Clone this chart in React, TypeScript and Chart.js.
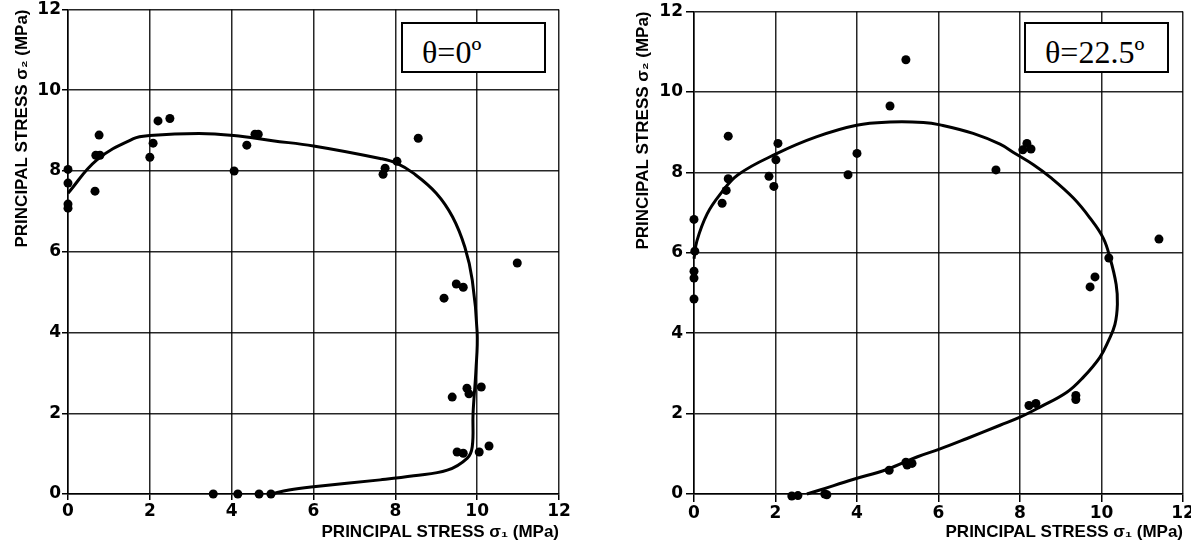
import React, { useEffect, useRef } from "react";
import { Chart, registerables } from "chart.js";

Chart.register(...registerables);

// ---------- Data ----------
const xTitle = "PRINCIPAL STRESS σ₁ (MPa)";
const yTitle = "PRINCIPAL STRESS σ₂ (MPa)";
const axisMin = 0;
const axisMax = 12;
const axisStep = 2;

const labelLeft = "θ=0º";
const labelRight = "θ=22.5º";

// θ = 0° measured points
const pts0X = [0, 0, 0, 0, 0.66, 0.68, 0.78, 0.76, 2.0, 2.08, 2.2, 2.49, 4.06, 4.37, 4.57, 4.65, 7.7, 7.75, 8.04, 8.56, 10.98, 9.19, 9.49, 9.66, 9.39, 9.75, 9.8, 10.1, 9.51, 9.66, 10.05, 10.29, 3.55, 4.15, 4.67, 4.96];
const pts0Y = [8.04, 7.7, 7.18, 7.08, 7.5, 8.39, 8.39, 8.89, 8.34, 8.69, 9.24, 9.3, 8.0, 8.64, 8.91, 8.91, 7.92, 8.07, 8.24, 8.81, 5.72, 4.85, 5.2, 5.12, 2.4, 2.62, 2.48, 2.65, 1.04, 1.01, 1.04, 1.19, 0, 0, 0, 0];

// θ = 0° fitted curve
const curve0X = [0, 0.7, 1.6, 2.0, 3.2, 4.05, 5.0, 6.0, 7.63, 8.04, 8.45, 9.0, 9.4, 9.7, 9.88, 10.0, 9.97, 9.9, 9.88, 9.76, 9.27, 8.45, 7.63, 6.0, 5.4, 4.95];
const curve0Y = [7.45, 8.27, 8.8, 8.88, 8.93, 8.88, 8.75, 8.62, 8.31, 8.19, 7.94, 7.45, 6.86, 6.11, 5.3, 4.0, 3.07, 2.0, 1.17, 0.89, 0.59, 0.45, 0.35, 0.18, 0.1, 0.0];

// θ = 22.5° measured points
const pts22X = [0, 0.02, 0, 0, 0, 0.69, 0.79, 0.84, 0.84, 1.84, 1.96, 2.01, 2.06, 3.78, 4.0, 4.81, 5.2, 7.41, 8.07, 8.17, 8.27, 11.41, 10.18, 9.84, 9.72, 9.37, 9.37, 8.22, 8.39, 5.2, 5.23, 5.35, 4.79, 2.4, 2.55, 3.21, 3.26];
const pts22Y = [6.83, 6.04, 5.54, 5.37, 4.85, 7.23, 7.55, 7.84, 8.9, 7.9, 7.65, 8.31, 8.72, 7.94, 8.47, 9.65, 10.8, 8.06, 8.56, 8.72, 8.58, 6.34, 5.87, 5.4, 5.15, 2.35, 2.45, 2.2, 2.25, 0.79, 0.72, 0.76, 0.59, -0.05, -0.04, 0, -0.02];

// θ = 22.5° fitted curve
const curve22X = [0, 0.07, 0.32, 0.64, 1.08, 2.04, 3.0, 3.99, 4.81, 5.63, 6.04, 6.85, 7.51, 7.88, 8.33, 8.74, 9.31, 9.72, 10.04, 10.21, 10.36, 10.39, 10.33, 10.17, 9.96, 9.55, 9.15, 8.49, 8.0, 7.51, 6.7, 6.04, 5.47, 4.73, 3.9, 3.09, 2.77];
const curve22Y = [5.85, 6.29, 6.96, 7.45, 7.94, 8.47, 8.88, 9.17, 9.25, 9.24, 9.18, 8.97, 8.7, 8.47, 8.19, 7.88, 7.36, 6.86, 6.37, 5.87, 5.21, 4.72, 4.22, 3.81, 3.4, 2.9, 2.53, 2.16, 1.91, 1.71, 1.38, 1.12, 0.92, 0.61, 0.36, 0.1, 0];

// ---------- Helpers ----------
const zip = (xs: number[], ys: number[]) => xs.map((x, i) => ({ x, y: ys[i] }));

type PanelLayout = {
  canvasLeft: number;
  width: number;
  height: number;
  yWidth: number;
  xHeight: number;
  padTop: number;
  padRight: number;
  tickLen: number;
  yTickPad: number;
  yTitlePad: number;
  box: { left: number; top: number; width: number; height: number };
};

const TICK_FONT = { family: "'DejaVu Sans', sans-serif", size: 17, weight: "bold", lineHeight: 1 };
const TITLE_FONT = { family: "'Liberation Sans', Arial, sans-serif", size: 17, weight: "bold" };
const GRID = "rgba(0,0,0,0.85)";

function makeConfig(px: number[], py: number[], cx: number[], cy: number[], L: PanelLayout): any {
  return {
    type: "scatter",
    data: {
      datasets: [
        {
          label: "points",
          data: zip(px, py),
          showLine: false,
          pointRadius: 4.5,
          pointHoverRadius: 4.5,
          pointBackgroundColor: "#000",
          pointBorderColor: "#000",
          pointBorderWidth: 0,
          clip: false,
        },
        {
          label: "curve",
          data: zip(cx, cy),
          showLine: true,
          borderColor: "#000",
          borderWidth: 3,
          tension: 0.4,
          pointRadius: 0,
          fill: false,
          clip: false,
        },
      ],
    },
    options: {
      responsive: false,
      animation: false,
      devicePixelRatio: 1,
      layout: { padding: { left: 0, top: L.padTop, right: L.padRight, bottom: 0 } },
      plugins: { legend: { display: false }, tooltip: { enabled: false } },
      scales: {
        x: {
          type: "linear",
          min: axisMin,
          max: axisMax,
          afterFit: (s: any) => {
            s.height = L.xHeight;
          },
          ticks: { stepSize: axisStep, color: "#000", font: TICK_FONT, padding: 3, maxRotation: 0 },
          grid: { color: GRID, lineWidth: 1.5, tickLength: L.tickLen, tickColor: "#000" },
          border: { color: "#000", width: 1.5 },
          title: { display: true, text: xTitle, align: "end", color: "#000", font: TITLE_FONT, padding: 7 },
        },
        y: {
          type: "linear",
          min: axisMin,
          max: axisMax,
          afterFit: (s: any) => {
            s.width = L.yWidth;
          },
          ticks: { stepSize: axisStep, color: "#000", font: TICK_FONT, padding: L.yTickPad },
          grid: { color: GRID, lineWidth: 1.5, tickLength: L.tickLen, tickColor: "#000" },
          border: { color: "#000", width: 1.5 },
          title: { display: true, text: yTitle, align: "end", color: "#000", font: TITLE_FONT, padding: L.yTitlePad },
        },
      },
    },
  };
}

function Panel(props: { px: number[]; py: number[]; cx: number[]; cy: number[]; label: string; L: PanelLayout }) {
  const ref = useRef<HTMLCanvasElement | null>(null);
  const { px, py, cx, cy, label, L } = props;
  useEffect(() => {
    if (!ref.current) return;
    const chart = new Chart(ref.current, makeConfig(px, py, cx, cy, L));
    return () => chart.destroy();
  }, []);
  return (
    <>
      <div style={{ position: "absolute", left: L.canvasLeft, top: 0, width: L.width, height: L.height }}>
        <canvas ref={ref} width={L.width} height={L.height} style={{ display: "block" }} />
      </div>
      <div
        style={{
          position: "absolute",
          left: L.box.left,
          top: L.box.top,
          width: L.box.width,
          height: L.box.height,
          boxSizing: "border-box",
          border: "2px solid #000",
          background: "#fff",
          paddingLeft: 19,
          paddingTop: 10,
          lineHeight: "37px",
          fontFamily: "'Liberation Serif', 'Times New Roman', serif",
          fontSize: 32,
          color: "#000",
          whiteSpace: "nowrap",
        }}
      >
        {label}
      </div>
    </>
  );
}

const leftLayout: PanelLayout = {
  canvasLeft: 0,
  width: 610,
  height: 550,
  yWidth: 68,
  xHeight: 56,
  padTop: 9,
  padRight: 51,
  tickLen: 6,
  yTickPad: 1,
  yTitlePad: 12,
  box: { left: 401, top: 22, width: 145, height: 51 },
};

const rightLayout: PanelLayout = {
  canvasLeft: 610,
  width: 600,
  height: 550,
  yWidth: 84,
  xHeight: 56,
  padTop: 9,
  padRight: 27,
  tickLen: 8,
  yTickPad: 3,
  yTitlePad: 23,
  box: { left: 1024, top: 22, width: 145, height: 51 },
};

export default function App() {
  return (
    <div
      style={{
        position: "absolute",
        left: 0,
        top: 0,
        width: 1191,
        height: 550,
        overflow: "hidden",
        background: "#fff",
      }}
    >
      <Panel px={pts0X} py={pts0Y} cx={curve0X} cy={curve0Y} label={labelLeft} L={leftLayout} />
      <Panel px={pts22X} py={pts22Y} cx={curve22X} cy={curve22Y} label={labelRight} L={rightLayout} />
    </div>
  );
}
